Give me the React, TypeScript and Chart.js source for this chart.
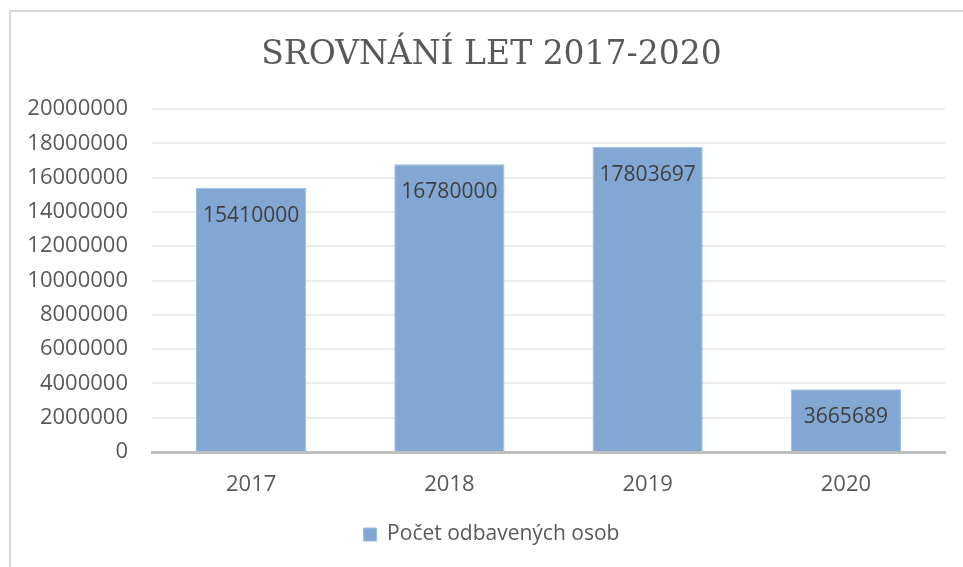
import React, { useEffect, useRef } from "react";
import { Chart, registerables } from "chart.js";

Chart.register(...registerables);

const categories: string[] = ["2017", "2018", "2019", "2020"];
const passengers: number[] = [15410000, 16780000, 17803697, 3665689];
const seriesLabel = "Počet odbavených osob";
const chartTitle = "SROVNÁNÍ LET 2017-2020";
const yMin = 0;
const yMax = 20000000;
const yStep = 2000000;

const barColor = "#82A7D3";

const dataLabelPlugin = {
  id: "dataLabels",
  afterDatasetsDraw(chart: any) {
    const ctx = chart.ctx;
    const meta = chart.getDatasetMeta(0);
    const values = chart.data.datasets[0].data as number[];
    ctx.save();
    ctx.font = "21px 'Open Sans'";
    ctx.fillStyle = "#404040";
    ctx.textAlign = "center";
    ctx.textBaseline = "middle";
    meta.data.forEach((bar: any, i: number) => {
      ctx.fillText(String(values[i]), bar.x, bar.y + 28);
    });
    ctx.restore();
  },
};

export default function App() {
  const canvasRef = useRef<HTMLCanvasElement | null>(null);

  useEffect(() => {
    const canvas = canvasRef.current;
    if (!canvas) return;
    const chart = new Chart(canvas, {
      type: "bar",
      data: {
        labels: categories,
        datasets: [
          {
            label: seriesLabel,
            data: passengers,
            backgroundColor: barColor,
            borderColor: "#9dbbe0",
            borderWidth: 1,
            categoryPercentage: 1,
            barPercentage: 0.556,
          },
        ],
      },
      options: {
        responsive: false,
        animation: false,
        maintainAspectRatio: false,
        layout: { padding: { left: 0, right: 0, top: 0, bottom: 12 } },
        plugins: {
          title: {
            display: true,
            text: chartTitle,
            color: "#595959",
            font: { family: "'DejaVu Serif'", size: 33, weight: "normal" },
            padding: { top: 24, bottom: 33.4 },
          },
          legend: {
            display: true,
            position: "bottom",
            labels: {
              color: "#595959",
              font: { family: "'Open Sans'", size: 21 },
              boxWidth: 13,
              boxHeight: 13,
              padding: 10,
            },
          },
          tooltip: { enabled: false },
        },
        scales: {
          x: {
            grid: { display: false, drawTicks: false },
            border: { display: true, color: "#bfbfbf", width: 3 },
            ticks: {
              color: "#595959",
              font: { family: "'Open Sans'", size: 22 },
              padding: 20,
            },
            afterFit: (s: any) => {
              s.height = 62;
            },
          },
          y: {
            min: yMin,
            max: yMax,
            grid: { color: "#ececec", lineWidth: 2, drawTicks: false },
            border: { display: false },
            ticks: {
              stepSize: yStep,
              color: "#595959",
              font: { family: "'Open Sans'", size: 22 },
              padding: 24,
              callback: (v: any) => String(v),
            },
            afterFit: (s: any) => {
              s.width = 141;
            },
          },
          yRightSpace: {
            axis: "y",
            position: "right",
            display: true,
            grid: { display: false, drawTicks: false },
            border: { display: false },
            ticks: { display: false },
            afterFit: (s: any) => {
              s.width = 27;
            },
          },
        },
      },
      plugins: [dataLabelPlugin],
    });
    return () => chart.destroy();
  }, []);

  return (
    <div
      style={{
        position: "absolute",
        left: 9,
        top: 10,
        width: 954,
        height: 557,
        overflow: "hidden",
        borderLeft: "2px solid #d9d9d9",
        borderTop: "2px solid #d9d9d9",
        boxSizing: "border-box",
        background: "#fff",
      }}
    >
      <canvas ref={canvasRef} width={961} height={555} style={{ display: "block" }} />
    </div>
  );
}
